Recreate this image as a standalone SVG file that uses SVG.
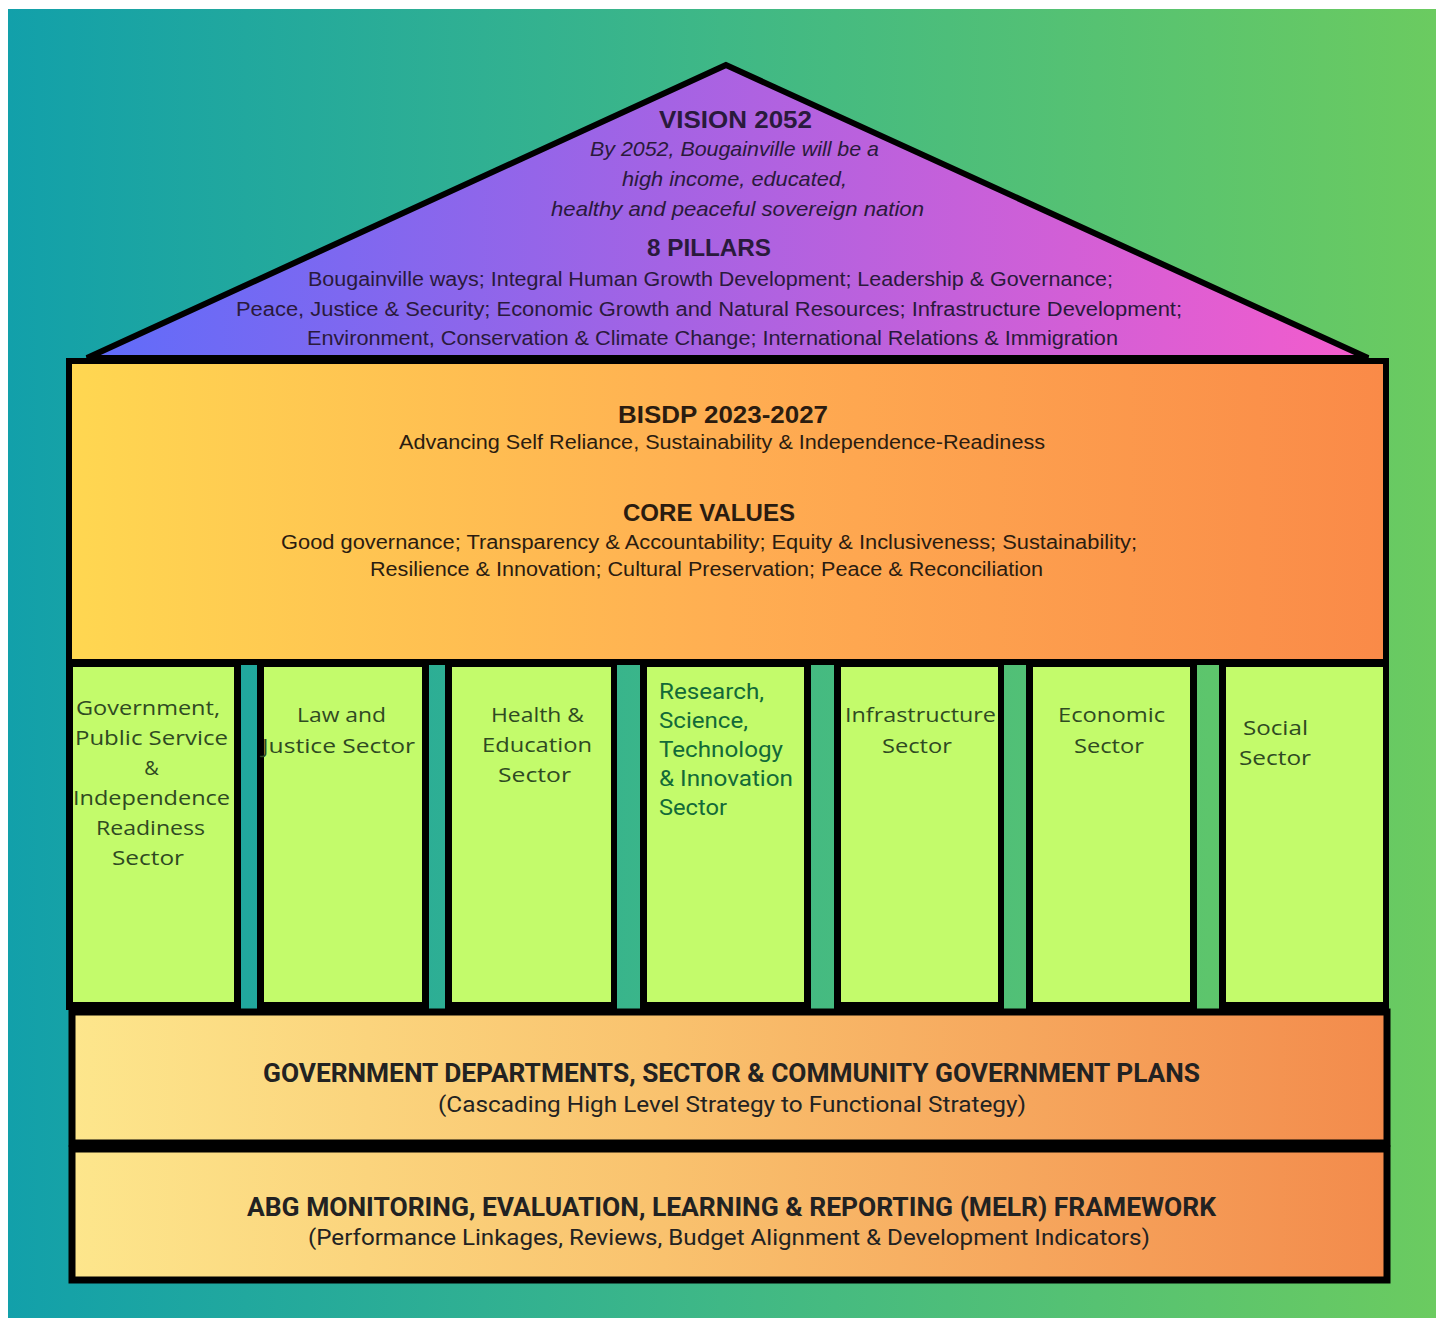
<svg xmlns="http://www.w3.org/2000/svg" width="1436" height="1318" viewBox="0 0 1436 1318">
<defs>
<linearGradient id="gBg" x1="0" y1="0" x2="1" y2="0">
<stop offset="0" stop-color="#12a0aa"/>
<stop offset="0.5" stop-color="#3fb886"/>
<stop offset="1" stop-color="#6bcb60"/>
</linearGradient>
<linearGradient id="gRoof" gradientUnits="userSpaceOnUse" x1="87" y1="0" x2="1368" y2="0">
<stop offset="0" stop-color="#5f6cfa"/>
<stop offset="0.45" stop-color="#a463e4"/>
<stop offset="1" stop-color="#f45ccc"/>
</linearGradient>
<linearGradient id="gCore" gradientUnits="userSpaceOnUse" x1="69" y1="0" x2="1386" y2="0">
<stop offset="0" stop-color="#ffd751"/>
<stop offset="0.5" stop-color="#ffae52"/>
<stop offset="1" stop-color="#fa8a48"/>
</linearGradient>
<linearGradient id="gBase" gradientUnits="userSpaceOnUse" x1="72" y1="0" x2="1387" y2="0">
<stop offset="0" stop-color="#fde68c"/>
<stop offset="0.45" stop-color="#f9c26e"/>
<stop offset="1" stop-color="#f38b4c"/>
</linearGradient>
</defs>
<style>
.edge{fill:#000}
.pil{fill:#c3fb6b}
.base{fill:url(#gBase);stroke:#000;stroke-width:7}
.rt{font-family:"Liberation Sans",Arial,sans-serif;fill:#2a1a3c}
.rh{font-size:23px;font-weight:bold}
.ri{font-size:21px;font-style:italic}
.rb{font-size:20px}
.ct{font-family:"Liberation Sans",Arial,sans-serif;fill:#2b1c10}
.ch{font-size:23px;font-weight:bold}
.cb{font-size:20px}
.pt{font-family:"Open Sans","Liberation Sans",sans-serif;font-size:20px;fill:#2f4a22;text-anchor:middle}
.rs{font-family:Roboto,"Liberation Sans",sans-serif;font-size:22px;fill:#126a38}
.bt{font-family:Roboto,"Liberation Sans",sans-serif;fill:#222;text-anchor:middle}
.bh{font-size:25px;font-weight:bold}
.bs{font-size:22px}
</style>
<rect id="background" x="8" y="9" width="1428" height="1309" fill="url(#gBg)"/>
<g id="roof">
<polygon points="726,65 87,358 1368,358" fill="url(#gRoof)" stroke="#000" stroke-width="6" stroke-linejoin="miter"/>
<text class="rt rh" x="659" y="128" textLength="153" lengthAdjust="spacingAndGlyphs">VISION 2052</text>
<text class="rt ri" x="590" y="156" textLength="289" lengthAdjust="spacingAndGlyphs">By 2052, Bougainville will be a</text>
<text class="rt ri" x="622" y="186" textLength="225" lengthAdjust="spacingAndGlyphs">high income, educated,</text>
<text class="rt ri" x="551" y="216" textLength="373" lengthAdjust="spacingAndGlyphs">healthy and peaceful sovereign nation</text>
<text class="rt rh" x="647" y="256" textLength="124" lengthAdjust="spacingAndGlyphs">8 PILLARS</text>
<text class="rt rb" x="308" y="286" textLength="805" lengthAdjust="spacingAndGlyphs">Bougainville ways; Integral Human Growth Development; Leadership &amp; Governance;</text>
<text class="rt rb" x="236" y="316" textLength="946" lengthAdjust="spacingAndGlyphs">Peace, Justice &amp; Security; Economic Growth and Natural Resources; Infrastructure Development;</text>
<text class="rt rb" x="307" y="345" textLength="811" lengthAdjust="spacingAndGlyphs">Environment, Conservation &amp; Climate Change; International Relations &amp; Immigration</text>
</g>
<g id="core">
<rect x="69" y="361" width="1317" height="301" fill="url(#gCore)" stroke="#000" stroke-width="6"/>
<text class="ct ch" x="618" y="423" textLength="210" lengthAdjust="spacingAndGlyphs">BISDP 2023-2027</text>
<text class="ct cb" x="399" y="449" textLength="646" lengthAdjust="spacingAndGlyphs">Advancing Self Reliance, Sustainability &amp; Independence-Readiness</text>
<text class="ct ch" x="623" y="521" textLength="172" lengthAdjust="spacingAndGlyphs">CORE VALUES</text>
<text class="ct cb" x="281" y="549" textLength="856" lengthAdjust="spacingAndGlyphs">Good governance; Transparency &amp; Accountability; Equity &amp; Inclusiveness; Sustainability;</text>
<text class="ct cb" x="370" y="576" textLength="673" lengthAdjust="spacingAndGlyphs">Resilience &amp; Innovation; Cultural Preservation; Peace &amp; Reconciliation</text>
</g>
<g id="pillars">
<g id="pillar-government">
<rect class="edge" x="66" y="662" width="175" height="348"/>
<rect class="pil" x="73" y="667" width="161" height="335"/>
<text class="pt" x="148" y="715" textLength="144" lengthAdjust="spacingAndGlyphs">Government,</text>
<text class="pt" x="151.5" y="745" textLength="153" lengthAdjust="spacingAndGlyphs">Public Service</text>
<text class="pt" x="151.5" y="775">&amp;</text>
<text class="pt" x="151.5" y="805" textLength="157" lengthAdjust="spacingAndGlyphs">Independence</text>
<text class="pt" x="150.5" y="835" textLength="109" lengthAdjust="spacingAndGlyphs">Readiness</text>
<text class="pt" x="148" y="865" textLength="72" lengthAdjust="spacingAndGlyphs">Sector</text>
</g>
<g id="pillar-law">
<rect class="edge" x="257" y="662" width="172" height="348"/>
<rect class="pil" x="264" y="667" width="158" height="335"/>
<text class="pt" x="341.5" y="722" textLength="89" lengthAdjust="spacingAndGlyphs">Law and</text>
<text class="pt" x="338.5" y="753" textLength="153" lengthAdjust="spacingAndGlyphs">Justice Sector</text>
</g>
<g id="pillar-health">
<rect class="edge" x="445" y="662" width="172" height="348"/>
<rect class="pil" x="452" y="667" width="159" height="335"/>
<text class="pt" x="537.5" y="722" textLength="93" lengthAdjust="spacingAndGlyphs">Health &amp;</text>
<text class="pt" x="537" y="752" textLength="110" lengthAdjust="spacingAndGlyphs">Education</text>
<text class="pt" x="534.5" y="782" textLength="73" lengthAdjust="spacingAndGlyphs">Sector</text>
</g>
<g id="pillar-research">
<rect class="edge" x="640" y="662" width="171" height="348"/>
<rect class="pil" x="647" y="667" width="157" height="335"/>
<text class="rs" x="659" y="699" textLength="105" lengthAdjust="spacingAndGlyphs">Research,</text>
<text class="rs" x="659" y="728" textLength="89" lengthAdjust="spacingAndGlyphs">Science,</text>
<text class="rs" x="659" y="757" textLength="124" lengthAdjust="spacingAndGlyphs">Technology</text>
<text class="rs" x="659" y="786" textLength="134" lengthAdjust="spacingAndGlyphs">&amp; Innovation</text>
<text class="rs" x="659" y="815" textLength="68" lengthAdjust="spacingAndGlyphs">Sector</text>
</g>
<g id="pillar-infrastructure">
<rect class="edge" x="834" y="662" width="170" height="348"/>
<rect class="pil" x="841" y="667" width="157" height="335"/>
<text class="pt" x="920.5" y="722" textLength="151" lengthAdjust="spacingAndGlyphs">Infrastructure</text>
<text class="pt" x="917" y="753" textLength="70" lengthAdjust="spacingAndGlyphs">Sector</text>
</g>
<g id="pillar-economic">
<rect class="edge" x="1026" y="662" width="171" height="348"/>
<rect class="pil" x="1033" y="667" width="157" height="335"/>
<text class="pt" x="1111.5" y="722" textLength="107" lengthAdjust="spacingAndGlyphs">Economic</text>
<text class="pt" x="1109" y="753" textLength="70" lengthAdjust="spacingAndGlyphs">Sector</text>
</g>
<g id="pillar-social">
<rect class="edge" x="1219" y="662" width="170" height="348"/>
<rect class="pil" x="1226" y="667" width="157" height="335"/>
<text class="pt" x="1275.5" y="735" textLength="65" lengthAdjust="spacingAndGlyphs">Social</text>
<text class="pt" x="1275" y="765" textLength="72" lengthAdjust="spacingAndGlyphs">Sector</text>
</g>
</g>
<g id="plans">
<rect class="base" x="72" y="1012" width="1315" height="131"/>
<text class="bt bh" x="731.5" y="1082" textLength="937" lengthAdjust="spacingAndGlyphs">GOVERNMENT DEPARTMENTS, SECTOR &amp; COMMUNITY GOVERNMENT PLANS</text>
<text class="bt bs" x="732" y="1112" textLength="588" lengthAdjust="spacingAndGlyphs">(Cascading High Level Strategy to Functional Strategy)</text>
</g>
<g id="melr">
<rect class="base" x="72" y="1149" width="1315" height="131"/>
<text class="bt bh" x="731.5" y="1216" textLength="969" lengthAdjust="spacingAndGlyphs">ABG MONITORING, EVALUATION, LEARNING &amp; REPORTING (MELR) FRAMEWORK</text>
<text class="bt bs" x="729" y="1245" textLength="842" lengthAdjust="spacingAndGlyphs">(Performance Linkages, Reviews, Budget Alignment &amp; Development Indicators)</text>
</g>
</svg>
